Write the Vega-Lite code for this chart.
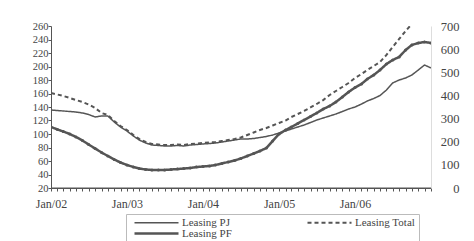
{
  "$schema": "https://vega.github.io/schema/vega-lite/v6.json",
  "width": 380,
  "height": 162,
  "autosize": "none",
  "padding": {"left": 51, "top": 26, "right": 43, "bottom": 53},
  "config": {
    "view": {"stroke": null},
    "font": "Liberation Serif",
    "axis": {"labelFont": "Liberation Serif", "labelFontSize": 12, "labelColor": "#444", "domainColor": "#555", "tickColor": "#555", "grid": false, "title": null, "labelOverlap": false, "labelFlush": false}
  },
  "data": {"values": [
    {"d": "2002/01/01", "Leasing PJ": 135.6, "Leasing PF": 110.4, "Leasing Total": 410.5},
    {"d": "2002/02/01", "Leasing PJ": 134.8, "Leasing PF": 106.7, "Leasing Total": 404},
    {"d": "2002/03/01", "Leasing PJ": 134.1, "Leasing PF": 103.7, "Leasing Total": 397.6},
    {"d": "2002/04/01", "Leasing PJ": 133.3, "Leasing PF": 100, "Leasing Total": 389},
    {"d": "2002/05/01", "Leasing PJ": 132.6, "Leasing PF": 95.6, "Leasing Total": 380},
    {"d": "2002/06/01", "Leasing PJ": 131.1, "Leasing PF": 90.4, "Leasing Total": 371.6},
    {"d": "2002/07/01", "Leasing PJ": 128.9, "Leasing PF": 84.4, "Leasing Total": 360.8},
    {"d": "2002/08/01", "Leasing PJ": 125.2, "Leasing PF": 78.5, "Leasing Total": 345.7},
    {"d": "2002/09/01", "Leasing PJ": 126.7, "Leasing PF": 72.6, "Leasing Total": 324},
    {"d": "2002/10/01", "Leasing PJ": 126.7, "Leasing PF": 67.4, "Leasing Total": 315.5},
    {"d": "2002/11/01", "Leasing PJ": 117.8, "Leasing PF": 62.2, "Leasing Total": 289.5},
    {"d": "2002/12/01", "Leasing PJ": 110.4, "Leasing PF": 57.8, "Leasing Total": 268},
    {"d": "2003/01/01", "Leasing PJ": 104.4, "Leasing PF": 54.1, "Leasing Total": 250.6},
    {"d": "2003/02/01", "Leasing PJ": 97, "Leasing PF": 51.1, "Leasing Total": 229},
    {"d": "2003/03/01", "Leasing PJ": 91.1, "Leasing PF": 48.9, "Leasing Total": 212},
    {"d": "2003/04/01", "Leasing PJ": 86.7, "Leasing PF": 47.4, "Leasing Total": 198.8},
    {"d": "2003/05/01", "Leasing PJ": 83.7, "Leasing PF": 46.7, "Leasing Total": 190},
    {"d": "2003/06/01", "Leasing PJ": 83, "Leasing PF": 46.7, "Leasing Total": 188},
    {"d": "2003/07/01", "Leasing PJ": 82.2, "Leasing PF": 46.7, "Leasing Total": 185.8},
    {"d": "2003/08/01", "Leasing PJ": 82.2, "Leasing PF": 47.4, "Leasing Total": 185.8},
    {"d": "2003/09/01", "Leasing PJ": 83, "Leasing PF": 48.1, "Leasing Total": 188},
    {"d": "2003/10/01", "Leasing PJ": 82.2, "Leasing PF": 48.9, "Leasing Total": 185.8},
    {"d": "2003/11/01", "Leasing PJ": 83.7, "Leasing PF": 49.6, "Leasing Total": 190},
    {"d": "2003/12/01", "Leasing PJ": 84.4, "Leasing PF": 51.1, "Leasing Total": 192.3},
    {"d": "2004/01/01", "Leasing PJ": 85.2, "Leasing PF": 51.9, "Leasing Total": 194.5},
    {"d": "2004/02/01", "Leasing PJ": 85.9, "Leasing PF": 52.6, "Leasing Total": 196.6},
    {"d": "2004/03/01", "Leasing PJ": 86.7, "Leasing PF": 54.1, "Leasing Total": 198.8},
    {"d": "2004/04/01", "Leasing PJ": 88.1, "Leasing PF": 56.3, "Leasing Total": 203},
    {"d": "2004/05/01", "Leasing PJ": 89.6, "Leasing PF": 58.5, "Leasing Total": 207.4},
    {"d": "2004/06/01", "Leasing PJ": 91.1, "Leasing PF": 60.7, "Leasing Total": 211.8},
    {"d": "2004/07/01", "Leasing PJ": 92.6, "Leasing PF": 63.7, "Leasing Total": 218.2},
    {"d": "2004/08/01", "Leasing PJ": 92.6, "Leasing PF": 67.4, "Leasing Total": 229},
    {"d": "2004/09/01", "Leasing PJ": 93.3, "Leasing PF": 71.1, "Leasing Total": 239.8},
    {"d": "2004/10/01", "Leasing PJ": 94.8, "Leasing PF": 74.8, "Leasing Total": 250.6},
    {"d": "2004/11/01", "Leasing PJ": 96.3, "Leasing PF": 79.3, "Leasing Total": 259.3},
    {"d": "2004/12/01", "Leasing PJ": 98.5, "Leasing PF": 89.6, "Leasing Total": 270},
    {"d": "2005/01/01", "Leasing PJ": 101.5, "Leasing PF": 100, "Leasing Total": 280.9},
    {"d": "2005/02/01", "Leasing PJ": 104.4, "Leasing PF": 105.9, "Leasing Total": 291.7},
    {"d": "2005/03/01", "Leasing PJ": 107.4, "Leasing PF": 110.4, "Leasing Total": 306.8},
    {"d": "2005/04/01", "Leasing PJ": 110.4, "Leasing PF": 115.6, "Leasing Total": 319.8},
    {"d": "2005/05/01", "Leasing PJ": 113.3, "Leasing PF": 120.7, "Leasing Total": 332.8},
    {"d": "2005/06/01", "Leasing PJ": 117, "Leasing PF": 125.9, "Leasing Total": 347.9},
    {"d": "2005/07/01", "Leasing PJ": 120.7, "Leasing PF": 131.1, "Leasing Total": 363},
    {"d": "2005/08/01", "Leasing PJ": 123.7, "Leasing PF": 137, "Leasing Total": 380},
    {"d": "2005/09/01", "Leasing PJ": 126.7, "Leasing PF": 141.5, "Leasing Total": 401.9},
    {"d": "2005/10/01", "Leasing PJ": 129.6, "Leasing PF": 147.4, "Leasing Total": 419.2},
    {"d": "2005/11/01", "Leasing PJ": 133.3, "Leasing PF": 154.8, "Leasing Total": 436.5},
    {"d": "2005/12/01", "Leasing PJ": 137, "Leasing PF": 162.2, "Leasing Total": 453.8},
    {"d": "2006/01/01", "Leasing PJ": 140, "Leasing PF": 168.9, "Leasing Total": 475.4},
    {"d": "2006/02/01", "Leasing PJ": 144.4, "Leasing PF": 174.1, "Leasing Total": 492.7},
    {"d": "2006/03/01", "Leasing PJ": 148.9, "Leasing PF": 181.5, "Leasing Total": 510},
    {"d": "2006/04/01", "Leasing PJ": 152.6, "Leasing PF": 187.4, "Leasing Total": 527.2},
    {"d": "2006/05/01", "Leasing PJ": 157, "Leasing PF": 194.8, "Leasing Total": 544.5},
    {"d": "2006/06/01", "Leasing PJ": 165.2, "Leasing PF": 203.7, "Leasing Total": 574.8},
    {"d": "2006/07/01", "Leasing PJ": 175.6, "Leasing PF": 209.6, "Leasing Total": 609.3},
    {"d": "2006/08/01", "Leasing PJ": 180, "Leasing PF": 214.1, "Leasing Total": 643.9},
    {"d": "2006/09/01", "Leasing PJ": 183, "Leasing PF": 224.4, "Leasing Total": 678.5},
    {"d": "2006/10/01", "Leasing PJ": 187.4, "Leasing PF": 231.9, "Leasing Total": 708.7},
    {"d": "2006/11/01", "Leasing PJ": 194.8, "Leasing PF": 234.8, "Leasing Total": null},
    {"d": "2006/12/01", "Leasing PJ": 202.2, "Leasing PF": 236.3, "Leasing Total": null},
    {"d": "2007/01/01", "Leasing PJ": 197.8, "Leasing PF": 234.8, "Leasing Total": null}
  ]},
  "transform": [
    {"fold": ["Leasing PJ", "Leasing PF", "Leasing Total"], "as": ["s", "v"]},
    {"filter": "datum.v != null"}
  ],
  "layer": [
    {
      "layer": [
        {
          "transform": [{"filter": "datum.s != 'Leasing Total'"}],
          "mark": {"type": "line", "color": "#555", "clip": true},
          "encoding": {
            "x": {
              "field": "d", "type": "temporal",
              "scale": {"domain": [{"year": 2002, "month": 1, "date": 1}, {"year": 2007, "month": 1, "date": 1}]},
              "axis": {
                "domain": true, "ticks": true, "domainColor": "#555",
                "tickCount": {"interval": "month", "step": 1},
                "labelExpr": "month(datum.value) == 0 && year(datum.value) < 2007 ? timeFormat(datum.value, '%b/%y') : ''",
                "tickSize": 3, "labelPadding": 7
              }
            },
            "y": {"field": "v", "type": "quantitative", "scale": {"domain": [20, 260], "nice": false, "zero": false},
                  "axis": {"values": [20, 40, 60, 80, 100, 120, 140, 160, 180, 200, 220, 240, 260], "tickSize": 3, "labelPadding": 0, "labelFontSize": 10.5, "labelOverlap": false}},
            "strokeDash": {"field": "s", "type": "nominal",
              "scale": {"domain": ["Leasing PJ", "Leasing Total", "Leasing PF"], "range": [[1, 0], [4, 3], [1, 0]]},
              "legend": {
                "orient": "none", "legendX": 75, "legendY": 188, "columns": 2, "direction": "horizontal", "title": null,
                "symbolType": "M0,0H11", "symbolSize": 64, "symbolStrokeColor": "#555", "symbolStrokeWidth": 2,
                "labelFont": "Liberation Serif", "labelFontSize": 11, "labelColor": "#444", "labelOffset": 42,
                "columnPadding": 70, "rowPadding": -2, "padding": 3, "strokeColor": "#bbb", "gridAlign": "each"
              }},
            "strokeWidth": {"field": "s", "type": "nominal",
              "scale": {"domain": ["Leasing PJ", "Leasing Total", "Leasing PF"], "range": [1.5, 2.5, 2.2]},
              "legend": null}
          }
        },
        {
          "transform": [{"filter": "datum.s == 'Leasing PF'"}],
          "mark": {"type": "point", "filled": true, "color": "#555", "size": 9, "opacity": 1, "clip": true},
          "encoding": {
            "x": {
              "field": "d", "type": "temporal",
              "scale": {"domain": [{"year": 2002, "month": 1, "date": 1}, {"year": 2007, "month": 1, "date": 1}]},
              "axis": {
                "domain": true, "ticks": true, "domainColor": "#555",
                "tickCount": {"interval": "month", "step": 1},
                "labelExpr": "month(datum.value) == 0 && year(datum.value) < 2007 ? timeFormat(datum.value, '%b/%y') : ''",
                "tickSize": 3, "labelPadding": 7
              }
            },
            "y": {"field": "v", "type": "quantitative",
                  "axis": {"values": [20, 40, 60, 80, 100, 120, 140, 160, 180, 200, 220, 240, 260], "tickSize": 3, "labelPadding": 0, "labelFontSize": 10.5, "labelOverlap": false}}
          }
        },
        {
          "transform": [{"filter": "datum.s == 'Leasing PJ' && datum.v == 135.6"}],
          "mark": {"type": "rule", "color": "#555", "strokeWidth": 1},
          "encoding": {
            "y": {"datum": 20, "type": "quantitative",
                  "axis": {"values": [20, 40, 60, 80, 100, 120, 140, 160, 180, 200, 220, 240, 260], "tickSize": 3, "labelPadding": 0, "labelFontSize": 10.5, "labelOverlap": false}}
          }
        }
      ]
    },
    {
      "transform": [{"filter": "datum.s == 'Leasing Total'"}],
      "mark": {"type": "line", "color": "#555", "clip": true},
      "encoding": {
        "x": {
          "field": "d", "type": "temporal",
          "scale": {"domain": [{"year": 2002, "month": 1, "date": 1}, {"year": 2007, "month": 1, "date": 1}]},
          "axis": {
            "domain": true, "ticks": true, "domainColor": "#555",
            "tickCount": {"interval": "month", "step": 1},
            "labelExpr": "month(datum.value) == 0 && year(datum.value) < 2007 ? timeFormat(datum.value, '%b/%y') : ''",
            "tickSize": 3, "labelPadding": 7
          }
        },
        "y": {"field": "v", "type": "quantitative", "scale": {"domain": [0, 700], "nice": false},
              "axis": {"orient": "right", "values": [0, 100, 200, 300, 400, 500, 600, 700], "ticks": false, "tickSize": 0,
                       "domainColor": "#ddd", "labelAlign": "right", "labelPadding": 28, "labelFontSize": 12.5, "labelOverlap": false}},
        "strokeDash": {"field": "s", "type": "nominal",
          "scale": {"domain": ["Leasing PJ", "Leasing Total", "Leasing PF"], "range": [[1, 0], [4, 3], [1, 0]]}},
        "strokeWidth": {"field": "s", "type": "nominal",
          "scale": {"domain": ["Leasing PJ", "Leasing Total", "Leasing PF"], "range": [1.5, 2.5, 2.2]},
          "legend": null}
      }
    }
  ],
  "resolve": {"scale": {"y": "independent"}}
}
